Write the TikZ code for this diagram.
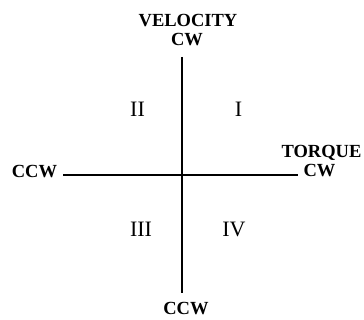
\documentclass[tikz,border=0pt]{standalone}
\usepackage{fontspec}
\setmainfont{Liberation Serif}
\begin{document}
\begin{tikzpicture}[x=1pt,y=-1pt,
  axis/.style={line width=1.2pt,black},
  lbl/.style={font=\fontsize{18.5}{20}\selectfont\bfseries,inner sep=0pt,anchor=base},
  quad/.style={font=\fontsize{22}{24}\selectfont,inner sep=0pt,anchor=base}]
\useasboundingbox (0,0) rectangle (364,320);
\coordinate (vt) at (182,57);
\coordinate (vb) at (182,293);
\coordinate (hl) at (63,175);
\coordinate (hr) at (298,175);
\draw[axis] (vt) -- (vb);
\draw[axis] (hl) -- (hr);
\node[lbl] (vel) at (188,27) {VELOCITY};
\node[lbl] (vcw) at (187,46) {CW};
\node[lbl] (vccw) at (186,315) {CCW};
\node[lbl] (hccw) at (34.5,178) {CCW};
\node[lbl] (tor) at (321.5,158) {TORQUE};
\node[lbl] (hcw) at (319.5,177) {CW};
\node[quad] (q2) at (137.5,117) {II};
\node[quad] (q1) at (238.5,117) {I};
\node[quad] (q3) at (141,237) {III};
\node[quad] (q4) at (234,237) {IV};
\end{tikzpicture}
\end{document}
